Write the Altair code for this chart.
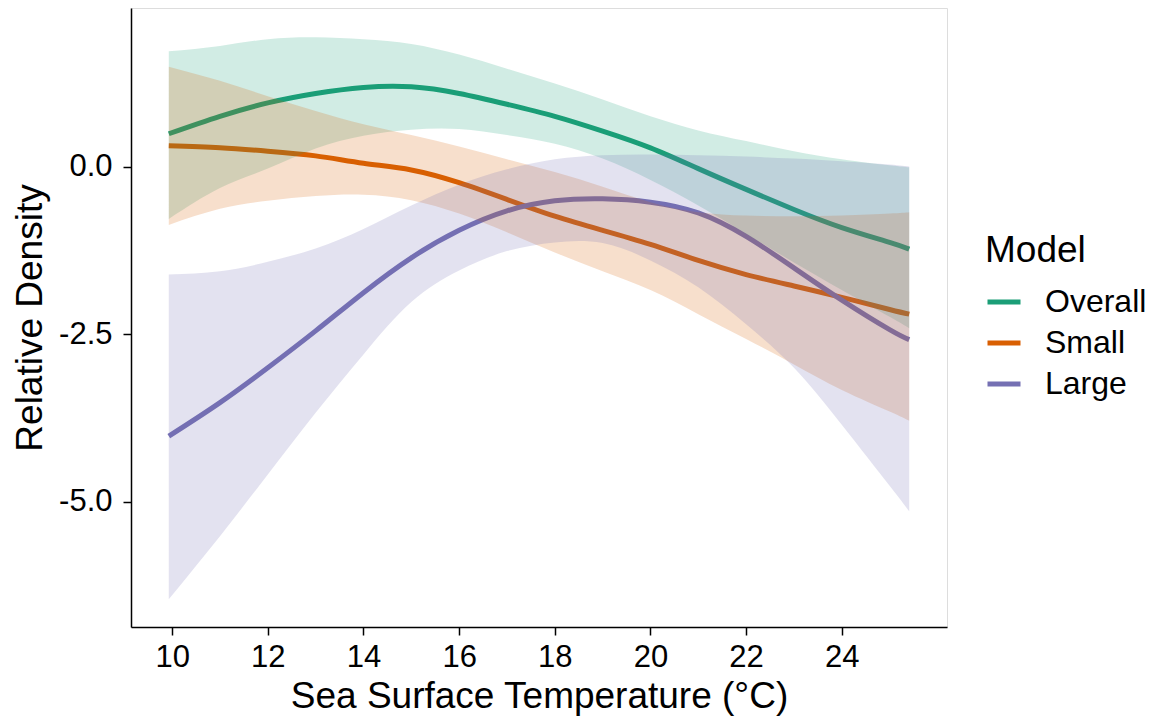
import altair as alt
import pandas as pd

# Sea surface temperature grid (°C)
sst = [9.93, 11, 12, 13, 14, 15, 16, 17, 18, 19, 20, 21, 22, 23, 24, 25, 25.41]

models = ["Overall", "Small", "Large"]
colors = ["#1B9E77", "#D95F02", "#7570B3"]

overall_fit = [0.49, 0.75, 0.95, 1.09, 1.18, 1.19, 1.09, 0.93, 0.75, 0.53, 0.28, -0.03, -0.34, -0.64, -0.91, -1.13, -1.23]
overall_hi = [1.72, 1.80, 1.90, 1.93, 1.90, 1.83, 1.67, 1.46, 1.24, 1.00, 0.75, 0.54, 0.38, 0.23, 0.11, 0.02, -0.01]
overall_lo = [-0.78, -0.32, -0.03, 0.27, 0.46, 0.55, 0.56, 0.47, 0.34, 0.12, -0.20, -0.58, -1.00, -1.43, -1.84, -2.24, -2.41]

small_fit = [0.31, 0.28, 0.23, 0.16, 0.05, -0.05, -0.24, -0.49, -0.74, -0.95, -1.16, -1.40, -1.61, -1.78, -1.95, -2.13, -2.20]
small_hi = [1.49, 1.28, 1.05, 0.83, 0.63, 0.47, 0.30, 0.11, -0.08, -0.30, -0.53, -0.68, -0.73, -0.74, -0.73, -0.70, -0.68]
small_lo = [-0.87, -0.63, -0.51, -0.44, -0.42, -0.50, -0.70, -0.98, -1.28, -1.56, -1.84, -2.20, -2.57, -2.95, -3.33, -3.65, -3.79]

large_fit = [-4.02, -3.52, -3.00, -2.45, -1.88, -1.36, -0.95, -0.66, -0.51, -0.48, -0.53, -0.69, -1.04, -1.51, -1.99, -2.43, -2.58]
large_hi = [-1.61, -1.56, -1.42, -1.22, -0.93, -0.58, -0.27, -0.04, 0.11, 0.17, 0.18, 0.17, 0.15, 0.12, 0.08, 0.03, 0.00]
large_lo = [-6.45, -5.51, -4.59, -3.67, -2.80, -2.02, -1.55, -1.26, -1.13, -1.14, -1.40, -1.80, -2.35, -3.00, -3.85, -4.76, -5.14]

x_ticks = [10, 12, 14, 16, 18, 20, 22, 24]
y_ticks = [0.0, -2.5, -5.0]

rows = []
for m, fit, hi, lo in [("Overall", overall_fit, overall_hi, overall_lo),
                       ("Small", small_fit, small_hi, small_lo),
                       ("Large", large_fit, large_hi, large_lo)]:
    for i, x in enumerate(sst):
        rows.append({"sst": x, "fit": fit[i], "hi": hi[i], "lo": lo[i], "Model": m,
                     "order": models.index(m)})
df = pd.DataFrame(rows)

FONT = "Liberation Sans"

x_enc = alt.X("sst:Q",
              scale=alt.Scale(domain=[9.14, 26.2], nice=False, zero=False),
              axis=alt.Axis(values=x_ticks, title="Sea Surface Temperature (°C)", grid=False,
                            labelFontSize=31, titleFontSize=37, tickSize=8, labelPadding=7,
                            titlePadding=6, domainWidth=1.5, tickWidth=1.5,
                            labelColor="black", titleColor="black", domainColor="black",
                            tickColor="black", titleFontWeight="normal", labelFont=FONT,
                            titleFont=FONT))
y_scale = alt.Scale(domain=[-6.865, 2.365], nice=False, zero=False)
y_axis = alt.Axis(values=y_ticks, title="Relative Density", grid=False,
                  labelExpr="(datum.value < 0 ? '-' : '') + format(abs(datum.value), '.1f')",
                  labelFontSize=31, titleFontSize=37, tickSize=8, labelPadding=11,
                  titlePadding=9, domainWidth=1.5, tickWidth=1.5,
                  labelColor="black", titleColor="black", domainColor="black",
                  tickColor="black", titleFontWeight="normal", labelFont=FONT, titleFont=FONT)

color_scale = alt.Scale(domain=models, range=colors)

lines = alt.Chart(df).mark_line(strokeWidth=5, interpolate="natural").encode(
    x=x_enc,
    y=alt.Y("fit:Q", scale=y_scale, axis=y_axis),
    color=alt.Color("Model:N", scale=color_scale, sort=models,
                    legend=alt.Legend(title="Model", orient="none", legendX=854, legendY=225,
                                      symbolType="stroke", symbolSize=1089, symbolStrokeWidth=5,
                                      labelFontSize=32, titleFontSize=37, titleFontWeight="normal",
                                      labelFont=FONT, titleFont=FONT, labelColor="black",
                                      titleColor="black", labelOffset=22, rowPadding=6,
                                      titlePadding=13, padding=0)),
    order=alt.Order("order:Q"),
)

bands = alt.Chart(df).mark_area(opacity=0.2, interpolate="natural").encode(
    x="sst:Q",
    y=alt.Y("lo:Q", scale=y_scale),
    y2="hi:Q",
    color=alt.Color("Model:N", scale=color_scale, sort=models, legend=None),
    detail="Model:N",
)

chart = alt.layer(lines, bands).properties(
    width=816, height=619,
    autosize=alt.AutoSizeParams(type="none"),
    padding={"left": 123, "top": 0, "right": 203, "bottom": 91},
).configure_view(stroke=None).configure(font=FONT)

chart.save("out.html", embed_options={"renderer": "svg", "actions": False})
